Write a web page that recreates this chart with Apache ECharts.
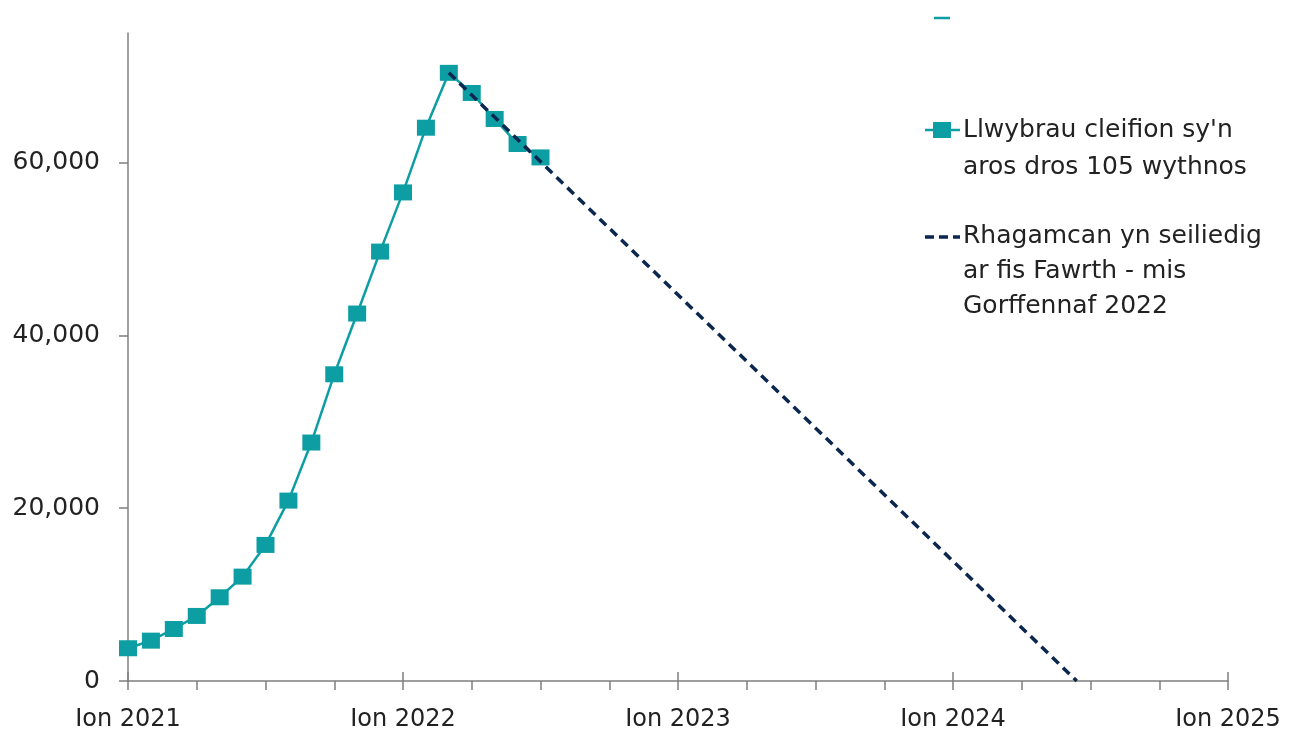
<!DOCTYPE html>
<html>
<head>
<meta charset="utf-8">
<script src="https://cdn.jsdelivr.net/npm/echarts@6/dist/echarts.min.js"></script>
<style>html,body{margin:0;padding:0;background:#fff}#c{width:1296px;height:736px}</style>
</head>
<body>
<div id="c"></div>
<script>
// Months since Jan 2021 (0 = Ion 2021)
var months = [0,1,2,3,4,5,6,7,8,9,10,11,12,13,14,15,16,17,18];
var pathways = [3790,4670,6020,7530,9690,12080,15750,20880,27600,35500,42530,49700,56550,64040,70390,68060,65050,62150,60600];
var projMonths = [14, 41.4];
var projValues = [70390, 0];
var yTicks = [0,20000,40000,60000];
var xTicks = [0,3,6,9,12,15,18,21,24,27,30,33,36,39,42,45,48];
var yearTicks = [0,12,24,36,48];
var yearLabels = ['Ion 2021','Ion 2022','Ion 2023','Ion 2024','Ion 2025'];
var seriesNames = ["Llwybrau cleifion sy'n\naros dros 105 wythnos", "Rhagamcan yn seiliedig\nar fis Fawrth - mis\nGorffennaf 2022"];

var TEAL = '#0c9ea2', NAVY = '#0b2750', AX = '#7f7f7f';
var FONT = 'DejaVu Sans';
var chart = echarts.init(document.getElementById('c'));
chart.setOption({
  animation: false,
  textStyle: {fontFamily: FONT},
  grid: {left: 128, right: 68, top: 33, bottom: 55, containLabel: false},
  xAxis: [{
    type: 'value', min: 0, max: 48, interval: 3,
    axisLine: {lineStyle: {color: AX, width: 1.5}},
    axisTick: {show: true, length: 9, customValues: xTicks, lineStyle: {color: AX, width: 1.5}},
    splitLine: {show: false},
    axisLabel: {customValues: yearTicks, fontSize: 24, color: '#222', margin: 27, fontFamily: FONT,
      formatter: function(v){ return yearLabels[yearTicks.indexOf(v)] || ''; }}
  },{
    type: 'value', min: 0, max: 48, position: 'bottom',
    axisLine: {show: false},
    axisTick: {show: true, inside: true, length: 9, customValues: yearTicks, lineStyle: {color: AX, width: 1.5}},
    axisLabel: {show: false}, splitLine: {show: false}
  }],
  yAxis: {
    type: 'value', min: 0, max: 75000,
    axisLine: {show: true, lineStyle: {color: AX, width: 1.5}},
    axisTick: {show: true, length: 9, customValues: yTicks, lineStyle: {color: AX, width: 1.5}},
    splitLine: {show: false},
    axisLabel: {customValues: yTicks, fontSize: 25, color: '#222', margin: 28, fontFamily: FONT,
      formatter: function(v){ return v.toLocaleString('en-GB'); }}
  },
  series: [{
    name: seriesNames[0], type: 'line', z: 2,
    data: months.map(function(m,i){ return [m, pathways[i]]; }),
    symbol: 'rect', symbolSize: [18,16],
    itemStyle: {color: TEAL},
    lineStyle: {color: TEAL, width: 2.5}
  },{
    name: seriesNames[1], type: 'line', z: 3,
    data: projMonths.map(function(m,i){ return [m, projValues[i]]; }),
    symbol: 'none',
    lineStyle: {color: NAVY, width: 3.5, type: [9,6]}
  }],
  graphic: [
    {type: 'line', shape: {x1: 934, y1: 18, x2: 950, y2: 18}, style: {stroke: TEAL, lineWidth: 2.5}},
    {type: 'line', shape: {x1: 925, y1: 130, x2: 960, y2: 130}, style: {stroke: TEAL, lineWidth: 2.5}},
    {type: 'rect', shape: {x: 933, y: 122, width: 18, height: 16}, style: {fill: TEAL}},
    {type: 'text', left: 963, top: 112, style: {text: seriesNames[0], font: '25px "DejaVu Sans"', fill: '#222', lineHeight: 37}},
    {type: 'line', shape: {x1: 925, y1: 237, x2: 960, y2: 237}, style: {stroke: NAVY, lineWidth: 3.5, lineDash: [9,5]}},
    {type: 'text', left: 963, top: 219, style: {text: seriesNames[1], font: '25px "DejaVu Sans"', fill: '#222', lineHeight: 35}}
  ]
});
</script>
</body>
</html>
